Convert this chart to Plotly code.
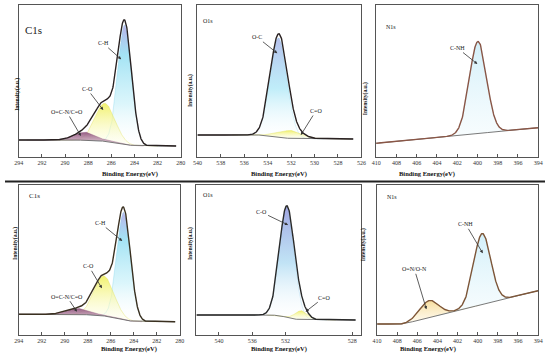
import numpy as np
import plotly.graph_objects as go

W, H = 550, 363

# ---------------- data ----------------
# tick labels
c1s_ticks = [294, 292, 290, 288, 286, 284, 282, 280]
o1s_top_ticks = [540, 538, 536, 534, 532, 530, 528, 526]
n1s_ticks = [410, 408, 406, 404, 402, 400, 398, 396, 394]
o1s_bot_tickvals = [540, 536, 532, 524]
o1s_bot_ticktext = ["540", "536", "532", "528"]

# x ranges (binding energy, eV, reversed)
c1s_top_xrange = [294, 280]
o1s_top_xrange = [540, 526]
n1s_top_xrange = [410, 394]
c1s_bot_xrange = [294, 280]
o1s_bot_xrange = [542.7, 522.9]
n1s_bot_xrange = [410, 394]

# --- top C1s ---
c1s_top_names = ["O=C-N/C=O", "C-O", "C-H"]
c1s_top_centers = [288.26, 286.56, 284.84]
c1s_top_heights = [8, 38, 119]
c1s_top_fwhm = [2.2, 2.0, 1.4]
c1s_top_bg = [17, 11]            # high-BE level, low-BE level (Shirley)
c1s_top_span = [280.4, 294]

# --- top O1s ---
o1s_top_names = ["C=O", "O-C"]
o1s_top_centers = [532.0, 533.07]
o1s_top_heights = [8, 99]
o1s_top_fwhm = [2.2, 1.7]
o1s_top_bg = [22, 18]
o1s_top_span = [526.7, 540]

# --- top N1s ---
n1s_top_names = ["C-NH"]
n1s_top_centers = [399.94]
n1s_top_heights = [92]
n1s_top_fwhm = [2.0]
n1s_top_bg_E = [394, 410]
n1s_top_bg_I = [29.3, 13.7]
n1s_top_span = [394, 410]

# --- bottom C1s ---
c1s_bot_names = ["O=C-N/C=O", "C-O", "C-H"]
c1s_bot_centers = [288.8, 286.6, 284.87]
c1s_bot_heights = [6, 40, 107]
c1s_bot_fwhm = [2.4, 2.0, 1.4]
c1s_bot_bg = [20.7, 13.3]
c1s_bot_span = [280.4, 294]

# --- bottom O1s ---
o1s_bot_names = ["C=O", "C-O"]
o1s_bot_centers = [530.1, 531.85]
o1s_bot_heights = [9, 111]
o1s_bot_fwhm = [1.8, 2.1]
o1s_bot_bg = [20, 15]
o1s_bot_span = [523.6, 542.7]

# --- bottom N1s ---
n1s_bot_names = ["O=N/O-N", "C-NH"]
n1s_bot_centers = [404.83, 399.56]
n1s_bot_heights = [17, 71]
n1s_bot_fwhm = [2.2, 2.0]
n1s_bot_bg_E = [394, 407.4, 410]
n1s_bot_bg_I = [44.3, 11, 11]
n1s_bot_span = [394, 410]

# ---------------- styles ----------------
SERIF = "Liberation Serif"
CYAN = [[0, 'rgba(255,255,255,0.05)'], [0.35, 'rgba(190,238,248,0.55)'],
        [0.75, 'rgba(125,215,240,0.7)'], [1, 'rgba(180,170,232,0.9)']]
CYAN2 = [[0, 'rgba(255,255,255,0.1)'], [0.5, 'rgba(150,225,245,0.6)'],
         [1, 'rgba(170,180,232,0.85)']]
CYAN3 = [[0, 'rgba(255,255,255,0.1)'], [0.5, 'rgba(160,212,240,0.65)'],
         [1, 'rgba(150,155,222,0.9)']]
PALE = [[0, 'rgba(240,250,253,0.5)'], [1, 'rgba(200,236,248,0.8)']]
YEL = [[0, 'rgba(255,255,235,0.3)'], [1, 'rgba(240,240,95,0.9)']]
PURP = [[0, 'rgba(215,185,205,0.6)'], [1, 'rgba(145,85,125,0.95)']]
ORNG = [[0, 'rgba(255,247,225,0.5)'], [1, 'rgba(245,215,140,0.85)']]
style_map = {
    1: [(PURP, 'rgba(140,80,120,0.6)'), (YEL, 'rgba(220,220,80,0.6)'), (CYAN, 'rgba(110,205,232,0.5)')],
    2: [(YEL, 'rgba(220,220,80,0.6)'), (CYAN2, 'rgba(110,205,232,0.4)')],
    3: [(PALE, 'rgba(180,225,240,0.5)')],
    4: [(PURP, 'rgba(140,80,120,0.6)'), (YEL, 'rgba(220,220,80,0.6)'), (CYAN, 'rgba(110,205,232,0.5)')],
    5: [(YEL, 'rgba(220,220,80,0.6)'), (CYAN3, 'rgba(110,190,232,0.4)')],
    6: [(ORNG, 'rgba(230,200,120,0.6)'), (PALE, 'rgba(180,225,240,0.5)')],
}
draw_order = {1: [2, 1, 0], 2: [1, 0], 3: [0], 4: [2, 1, 0], 5: [1, 0], 6: [0, 1]}
env_color = {1: '#2a2222', 2: '#2a2222', 3: '#8a5646', 4: '#3a3020', 5: '#2a2a2a', 6: '#7e5638'}

fig = go.Figure()


def gauss(E, c, h, w):
    s = w / 2.3548
    return h * np.exp(-0.5 * ((E - c) / s) ** 2)


def add_panel(idx, span, centers, heights, fwhms, bg_kind, bg_a, bg_b=None):
    xa = 'x' if idx == 1 else f'x{idx}'
    ya = 'y' if idx == 1 else f'y{idx}'
    E = np.linspace(span[0], span[1], 600)
    comps = [gauss(E, c, h, w) for c, h, w in zip(centers, heights, fwhms)]
    total = np.sum(comps, axis=0)
    if bg_kind == 'shirley':
        high, low = bg_a
        cum = np.concatenate([[0], np.cumsum((total[1:] + total[:-1]) / 2 * np.diff(E))])
        bg = low + (high - low) * cum / cum[-1]
    else:
        bg = np.interp(E, bg_a, bg_b)
    for i in draw_order[idx]:
        c, w = centers[i], fwhms[i]
        m = np.abs(E - c) < 2.3 * w
        cs, lc = style_map[idx][i]
        fig.add_trace(go.Scatter(x=E[m], y=bg[m], mode='lines', line=dict(width=0),
                                 xaxis=xa, yaxis=ya, hoverinfo='skip', showlegend=False))
        fig.add_trace(go.Scatter(x=E[m], y=bg[m] + comps[i][m], mode='lines', fill='tonexty',
                                 fillgradient=dict(type='vertical', colorscale=cs),
                                 line=dict(width=0.6, color=lc),
                                 xaxis=xa, yaxis=ya, hoverinfo='skip', showlegend=False))
    fig.add_trace(go.Scatter(x=E, y=bg, mode='lines', line=dict(width=0.9, color='#6a6a6a'),
                             xaxis=xa, yaxis=ya, hoverinfo='skip', showlegend=False))
    fig.add_trace(go.Scatter(x=E, y=bg + total, mode='lines',
                             line=dict(width=1.4, color=env_color[idx]),
                             xaxis=xa, yaxis=ya, hoverinfo='skip', showlegend=False))


add_panel(1, c1s_top_span, c1s_top_centers, c1s_top_heights, c1s_top_fwhm, 'shirley', c1s_top_bg)
add_panel(2, o1s_top_span, o1s_top_centers, o1s_top_heights, o1s_top_fwhm, 'shirley', o1s_top_bg)
add_panel(3, n1s_top_span, n1s_top_centers, n1s_top_heights, n1s_top_fwhm, 'linear', n1s_top_bg_E, n1s_top_bg_I)
add_panel(4, c1s_bot_span, c1s_bot_centers, c1s_bot_heights, c1s_bot_fwhm, 'shirley', c1s_bot_bg)
add_panel(5, o1s_bot_span, o1s_bot_centers, o1s_bot_heights, o1s_bot_fwhm, 'shirley', o1s_bot_bg)
add_panel(6, n1s_bot_span, n1s_bot_centers, n1s_bot_heights, n1s_bot_fwhm, 'linear', n1s_bot_bg_E, n1s_bot_bg_I)

# ---------------- layout ----------------
def fx(p):
    return p / W


def fy(p):
    return 1 - p / H


panels = {
    1: dict(px=(14, 179), py=(5, 157), xr=c1s_top_xrange, tv=c1s_ticks, tt=None),
    2: dict(px=(196, 363), py=(5, 157), xr=o1s_top_xrange, tv=o1s_top_ticks, tt=None),
    3: dict(px=(378, 543), py=(5, 157), xr=n1s_top_xrange, tv=n1s_ticks, tt=None),
    4: dict(px=(14, 178), py=(185, 335), xr=c1s_bot_xrange, tv=c1s_ticks, tt=None),
    5: dict(px=(195, 363), py=(185, 335), xr=o1s_bot_xrange, tv=o1s_bot_tickvals, tt=o1s_bot_ticktext),
    6: dict(px=(379, 543), py=(185, 335), xr=n1s_bot_xrange, tv=n1s_ticks, tt=None),
}

layout = dict(width=W, height=H, margin=dict(l=0, r=0, t=0, b=0),
              paper_bgcolor='white', plot_bgcolor='white', showlegend=False)
for i, p in panels.items():
    xk = 'xaxis' if i == 1 else f'xaxis{i}'
    yk = 'yaxis' if i == 1 else f'yaxis{i}'
    ya = 'y' if i == 1 else f'y{i}'
    xa = 'x' if i == 1 else f'x{i}'
    xd = dict(domain=[fx(p['px'][0]), fx(p['px'][1])], range=p['xr'], anchor=ya,
              tickvals=p['tv'], ticks='inside', ticklen=3, tickwidth=1, tickcolor='#555',
              showline=True, mirror=True, linecolor='#555', linewidth=1.3,
              showgrid=False, zeroline=False,
              tickfont=dict(family=SERIF, size=6, color='#333'))
    if p['tt'] is not None:
        xd['ticktext'] = p['tt']
    layout[xk] = xd
    hgt = p['py'][1] - p['py'][0]
    layout[yk] = dict(domain=[fy(p['py'][1]), fy(p['py'][0])], range=[0, hgt], anchor=xa,
                      showticklabels=False, ticks='', showline=True, mirror=True,
                      linecolor='#555', linewidth=1.3, showgrid=False, zeroline=False)
fig.update_layout(**layout)

ann = []
# axis titles
for i, p in panels.items():
    cx = (p['px'][0] + p['px'][1]) / 2
    ty = 174 if p['py'][0] < 100 else 355
    ann.append(dict(x=fx(cx), y=fy(ty), xref='paper', yref='paper', showarrow=False,
                    text='<b>Binding Energy(eV)</b>', font=dict(family=SERIF, size=6.5, color='#111')))
ytitle_pos = {1: (7, 76), 2: (189, 72), 3: (373, 80), 4: (5, 262), 5: (189, 262), 6: (371, 263)}
for i, (x, y) in ytitle_pos.items():
    ann.append(dict(x=fx(x), y=fy(y), xref='paper', yref='paper', showarrow=False, textangle=-90,
                    text='<b>Intensity(a.u.)</b>', font=dict(family=SERIF, size=5.5, color='#111')))

# panel labels
plabels = [(1, 'C1s', 18, 22, 11), (2, 'O1s', 200, 16, 6), (3, 'N1s', 386, 22, 6),
           (4, 'C1s', 22, 196, 7), (5, 'O1s', 200, 195, 6), (6, 'N1s', 387, 197, 6)]
for _, t, x, y, s in plabels:
    ann.append(dict(x=fx(x), y=fy(y), xref='paper', yref='paper', showarrow=False, text=t,
                    xanchor='left', font=dict(family=SERIF, size=s, color='#222')))

# peak labels with arrows: (panel, text, E head, intensity head, ax, ay)
peak_labels = [
    (1, c1s_top_names[2], 285.15, 97.7, -18, -16),
    (1, c1s_top_names[1], 286.70, 47, -16, -21),
    (1, c1s_top_names[0], 288.63, 21, -14, -24),
    (2, o1s_top_names[1], 533.18, 103.7, -20, -16),
    (2, o1s_top_names[0], 531.17, 22, 15, -24),
    (3, n1s_top_names[0], 400.0, 93, -20, -16),
    (4, c1s_bot_names[2], 285.0, 94, -22, -18),
    (4, c1s_bot_names[1], 286.77, 46.7, -13, -22),
    (4, c1s_bot_names[0], 288.94, 23.3, -10, -15),
    (5, o1s_bot_names[1], 531.7, 110, -27, -13),
    (5, o1s_bot_names[0], 529.6, 23.3, 18, -14),
    (6, n1s_bot_names[1], 399.5, 81.7, -17, -29),
    (6, n1s_bot_names[0], 405.1, 25.7, -12, -40),
]
for i, t, x, y, ax, ay in peak_labels:
    ann.append(dict(x=x, y=y, xref='x' if i == 1 else f'x{i}', yref='y' if i == 1 else f'y{i}',
                    text=t, showarrow=True, arrowhead=2, arrowsize=0.8, arrowwidth=0.8,
                    arrowcolor='#333', ax=ax, ay=ay, standoff=0,
                    font=dict(family=SERIF, size=6, color='#222')))
fig.update_layout(annotations=ann)

fig.update_layout(shapes=[dict(type='line', xref='paper', yref='paper', x0=0, x1=1,
                               y0=fy(181.5), y1=fy(181.5), line=dict(color='#222', width=2))])

fig.write_html("out.html", config={'displayModeBar': False},
               post_script="document.body.style.margin='0';")
